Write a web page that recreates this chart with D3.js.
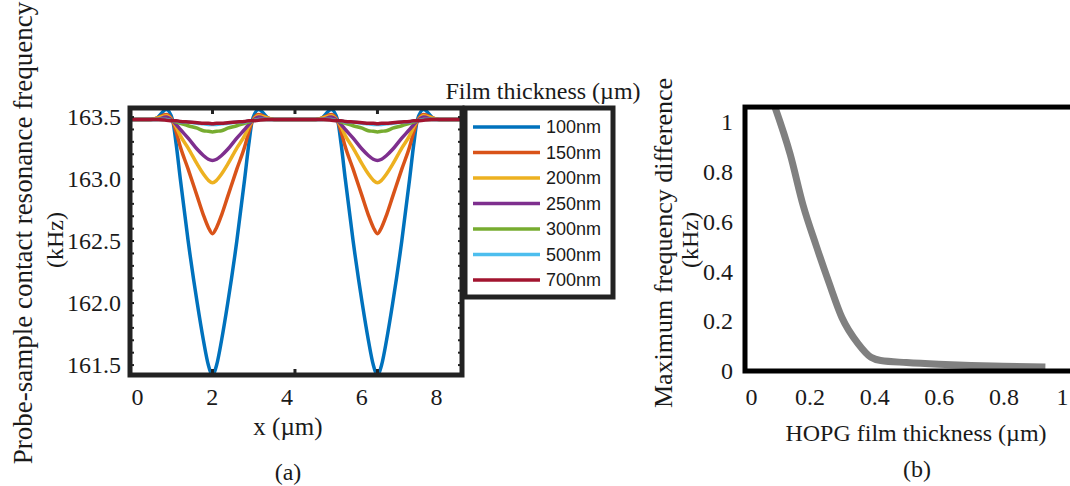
<!DOCTYPE html>
<html>
<head>
<meta charset="utf-8">
<script src="https://cdn.jsdelivr.net/npm/d3@7"></script>
<style>
  html, body { margin: 0; padding: 0; background: #fff; }
  svg { display: block; }
  text { font-family: "Liberation Serif", "Times New Roman", serif; fill: #1a1a1a; }
  .tick text { font-family: "Liberation Serif", "Times New Roman", serif !important; font-size: 24px; }
  .leg text { font-family: "Liberation Sans", Arial, sans-serif; }
</style>
</head>
<body>
<svg id="chart" width="1070" height="486"></svg>
<script>
// panel (a): resonance frequency along x for each film thickness
const xPos = [0, 0.50, 0.64, 0.88, 1.03, 1.12, 1.22, 1.41, 1.63, 1.78, 1.90, 2.00, 2.10, 2.22, 2.37, 2.59, 2.78, 2.88, 2.97, 3.12, 3.36, 3.50,
  4.00, 4.50, 4.64, 4.88, 5.03, 5.12, 5.22, 5.41, 5.63, 5.78, 5.90, 6.00, 6.10, 6.22, 6.37, 6.59, 6.78, 6.88, 6.97, 7.12, 7.36, 7.50, 8.05];

const thickness = ['100nm', '150nm', '200nm', '250nm', '300nm', '500nm', '700nm'];
const colors = ['#0072BD', '#D95319', '#EDB120', '#7E2F8E', '#77AC30', '#4DBEEE', '#A2142F'];

const f100 = [163.48, 163.48, 163.49, 163.56, 163.48, 163.28, 163.00, 162.50, 162.00, 161.70, 161.50, 161.42, 161.50, 161.70, 162.00, 162.50, 163.00, 163.28, 163.48, 163.56, 163.49, 163.48,
  163.48, 163.48, 163.49, 163.56, 163.48, 163.28, 163.00, 162.50, 162.00, 161.70, 161.50, 161.42, 161.50, 161.70, 162.00, 162.50, 163.00, 163.28, 163.48, 163.56, 163.49, 163.48, 163.48];
const f150 = [163.48, 163.48, 163.49, 163.52, 163.47, 163.38, 163.26, 163.08, 162.86, 162.71, 162.61, 162.56, 162.61, 162.71, 162.86, 163.08, 163.26, 163.38, 163.47, 163.52, 163.49, 163.48,
  163.48, 163.48, 163.49, 163.52, 163.47, 163.38, 163.26, 163.08, 162.86, 162.71, 162.61, 162.56, 162.61, 162.71, 162.86, 163.08, 163.26, 163.38, 163.47, 163.52, 163.49, 163.48, 163.48];
const f200 = [163.48, 163.48, 163.49, 163.51, 163.47, 163.42, 163.35, 163.25, 163.12, 163.04, 162.99, 162.97, 162.99, 163.04, 163.12, 163.25, 163.35, 163.42, 163.47, 163.51, 163.49, 163.48,
  163.48, 163.48, 163.49, 163.51, 163.47, 163.42, 163.35, 163.25, 163.12, 163.04, 162.99, 162.97, 162.99, 163.04, 163.12, 163.25, 163.35, 163.42, 163.47, 163.51, 163.49, 163.48, 163.48];
const f250 = [163.48, 163.48, 163.48, 163.50, 163.47, 163.44, 163.40, 163.33, 163.24, 163.19, 163.16, 163.15, 163.16, 163.19, 163.24, 163.33, 163.40, 163.44, 163.47, 163.50, 163.48, 163.48,
  163.48, 163.48, 163.48, 163.50, 163.47, 163.44, 163.40, 163.33, 163.24, 163.19, 163.16, 163.15, 163.16, 163.19, 163.24, 163.33, 163.40, 163.44, 163.47, 163.50, 163.48, 163.48, 163.48];
const f300 = [163.48, 163.48, 163.48, 163.48, 163.47, 163.46, 163.45, 163.43, 163.41, 163.39, 163.385, 163.38, 163.385, 163.39, 163.41, 163.43, 163.45, 163.46, 163.47, 163.48, 163.48, 163.48,
  163.48, 163.48, 163.48, 163.48, 163.47, 163.46, 163.45, 163.43, 163.41, 163.39, 163.385, 163.38, 163.385, 163.39, 163.41, 163.43, 163.45, 163.46, 163.47, 163.48, 163.48, 163.48, 163.48];
const f500 = [163.48, 163.48, 163.48, 163.48, 163.47, 163.47, 163.46, 163.46, 163.45, 163.445, 163.44, 163.44, 163.44, 163.445, 163.45, 163.46, 163.46, 163.47, 163.47, 163.48, 163.48, 163.48,
  163.48, 163.48, 163.48, 163.48, 163.47, 163.47, 163.46, 163.46, 163.45, 163.445, 163.44, 163.44, 163.44, 163.445, 163.45, 163.46, 163.46, 163.47, 163.47, 163.48, 163.48, 163.48, 163.48];
const f700 = [163.48, 163.48, 163.48, 163.475, 163.47, 163.47, 163.465, 163.46, 163.455, 163.45, 163.45, 163.445, 163.45, 163.45, 163.455, 163.46, 163.465, 163.47, 163.47, 163.475, 163.48, 163.48,
  163.48, 163.48, 163.48, 163.475, 163.47, 163.47, 163.465, 163.46, 163.455, 163.45, 163.45, 163.445, 163.45, 163.45, 163.455, 163.46, 163.465, 163.47, 163.47, 163.475, 163.48, 163.48, 163.48];
const seriesA = [f100, f150, f200, f250, f300, f500, f700];

const yTicksA = [161.5, 162.0, 162.5, 163.0, 163.5];
const xTicksA = [0, 2, 4, 6, 8];

// panel (b): maximum frequency difference vs film thickness
const filmT = [0.09, 0.14, 0.18, 0.22, 0.26, 0.30, 0.35, 0.39, 0.42, 0.50, 0.60, 0.70, 0.80, 0.93];
const maxDiff = [1.07, 0.87, 0.665, 0.505, 0.355, 0.215, 0.11, 0.055, 0.042, 0.034, 0.027, 0.022, 0.019, 0.016];
const xTicksB = [0, 0.2, 0.4, 0.6, 0.8, 1];
const yTicksB = [0, 0.2, 0.4, 0.6, 0.8, 1];

const svg = d3.select('#chart');

// strip d3's default axis font so the serif style applies
const styleAxis = (g) => {
  g.attr('font-family', null).attr('font-size', null);
  g.select('.domain').remove();
  g.selectAll('text').attr('fill', '#1a1a1a');
};

// ---------- panel (a) ----------
const xA = d3.scaleLinear().domain([0, 8.05]).range([130, 462]);
const yA = d3.scaleLinear().domain([161.42, 163.573]).range([375, 108]);
// the printed x labels sit on their own slightly shifted scale
const xLabA = d3.scaleLinear().domain([0, 8]).range([137, 436]);

svg.append('clipPath').attr('id', 'clipA')
  .append('rect')
  .attr('x', xA(0)).attr('y', yA(163.573))
  .attr('width', xA(8.05) - xA(0)).attr('height', yA(161.42) - yA(163.573));

const lineA = d3.line()
  .x((d, i) => xA(xPos[i]))
  .y((d) => yA(d))
  .curve(d3.curveMonotoneX);

const gA = svg.append('g').attr('clip-path', 'url(#clipA)');
seriesA.forEach((s, k) => {
  gA.append('path')
    .attr('d', lineA(s))
    .attr('fill', 'none')
    .attr('stroke', colors[k])
    .attr('stroke-width', 3.5);
});

// minor ticks on left/right, major ticks top/bottom
const minorY = d3.range(161.5, 163.55, 0.1);
minorY.forEach((v) => {
  svg.append('line').attr('x1', xA(0)).attr('x2', xA(0) + 4)
    .attr('y1', yA(v)).attr('y2', yA(v)).attr('stroke', '#222').attr('stroke-width', 2);
  svg.append('line').attr('x1', xA(8.05)).attr('x2', xA(8.05) - 4)
    .attr('y1', yA(v)).attr('y2', yA(v)).attr('stroke', '#222').attr('stroke-width', 2);
});
[2, 4, 6].forEach((v) => {
  svg.append('line').attr('x1', xA(v)).attr('x2', xA(v))
    .attr('y1', yA(163.573)).attr('y2', yA(163.573) + 6).attr('stroke', '#222').attr('stroke-width', 3);
  svg.append('line').attr('x1', xA(v)).attr('x2', xA(v))
    .attr('y1', yA(161.42)).attr('y2', yA(161.42) - 6).attr('stroke', '#222').attr('stroke-width', 3);
});

svg.append('rect')
  .attr('x', xA(0)).attr('y', yA(163.573))
  .attr('width', xA(8.05) - xA(0)).attr('height', yA(161.42) - yA(163.573))
  .attr('fill', 'none').attr('stroke', '#222').attr('stroke-width', 5);

// y axis labels
svg.append('g')
  .attr('transform', `translate(${xA(0)},0)`)
  .call(d3.axisLeft(yA).tickValues(yTicksA).tickFormat(d3.format('.1f')).tickSize(0).tickPadding(9))
  .call(styleAxis);

// x axis labels
svg.append('g')
  .attr('transform', `translate(0,${yA(161.42)})`)
  .call(d3.axisBottom(xLabA).tickValues(xTicksA).tickSize(0).tickPadding(13))
  .call(styleAxis);

// titles (a)
svg.append('text').attr('transform', 'translate(32,233) rotate(-90)')
  .attr('text-anchor', 'middle').style('font-size', '27px')
  .text('Probe-sample contact resonance frequency');
svg.append('text').attr('transform', 'translate(63,240) rotate(-90)')
  .attr('text-anchor', 'middle').style('font-size', '24px')
  .text('(kHz)');
svg.append('text').attr('x', 288).attr('y', 435)
  .attr('text-anchor', 'middle').style('font-size', '25px')
  .text('x (µm)');
svg.append('text').attr('x', 288).attr('y', 480)
  .attr('text-anchor', 'middle').style('font-size', '24px')
  .text('(a)');

// legend
svg.append('text').attr('x', 543).attr('y', 99)
  .attr('text-anchor', 'middle').style('font-size', '24px')
  .text('Film thickness (µm)');
const leg = svg.append('g').attr('class', 'leg');
leg.append('rect').attr('x', 465).attr('y', 108).attr('width', 148).attr('height', 189)
  .attr('fill', '#fff').attr('stroke', '#222').attr('stroke-width', 5);
const yLeg = d3.scaleLinear().domain([0, thickness.length - 1]).range([127, 280]);
thickness.forEach((t, k) => {
  leg.append('line').attr('x1', 473).attr('x2', 540)
    .attr('y1', yLeg(k)).attr('y2', yLeg(k))
    .attr('stroke', colors[k]).attr('stroke-width', 3.5);
  leg.append('text').attr('x', 546).attr('y', yLeg(k)).attr('dy', '0.36em')
    .style('font-size', '18px').text(t);
});

// ---------- panel (b) ----------
const xB = d3.scaleLinear().domain([0, 1]).range([745, 1068]);
const yB = d3.scaleLinear().domain([0, 1]).range([371, 122]);

svg.append('clipPath').attr('id', 'clipB')
  .append('rect').attr('x', xB(0)).attr('y', yB(1.06))
  .attr('width', 1080 - xB(0)).attr('height', yB(0) - yB(1.06));

const lineB = d3.line()
  .x((d, i) => xB(filmT[i]))
  .y((d) => yB(d))
  .curve(d3.curveMonotoneX);

svg.append('path')
  .attr('clip-path', 'url(#clipB)')
  .attr('d', lineB(maxDiff))
  .attr('fill', 'none')
  .attr('stroke', '#808080')
  .attr('stroke-width', 7);

svg.append('rect')
  .attr('x', xB(0)).attr('y', yB(1.06))
  .attr('width', 1080 - xB(0)).attr('height', yB(0) - yB(1.06))
  .attr('fill', 'none').attr('stroke', '#000').attr('stroke-width', 5);

svg.append('g')
  .attr('transform', `translate(${xB(0)},0)`)
  .call(d3.axisLeft(yB).tickValues(yTicksB).tickFormat((d) => String(d)).tickSize(0).tickPadding(12))
  .call(styleAxis);

const xAxisB = svg.append('g')
  .attr('transform', `translate(0,${yB(0)})`)
  .call(d3.axisBottom(xB).tickValues(xTicksB).tickFormat((d) => String(d)).tickSize(0).tickPadding(17))
  .call(styleAxis);
xAxisB.selectAll('text')
  .attr('text-anchor', (d) => (d === 0 ? 'start' : d === 1 ? 'end' : 'middle'));

svg.append('text').attr('transform', 'translate(672,243) rotate(-90)')
  .attr('text-anchor', 'middle').style('font-size', '26px')
  .text('Maximum frequency difference');
svg.append('text').attr('transform', 'translate(698,240) rotate(-90)')
  .attr('text-anchor', 'middle').style('font-size', '24px')
  .text('(kHz)');
svg.append('text').attr('x', 916).attr('y', 441)
  .attr('text-anchor', 'middle').style('font-size', '24px')
  .text('HOPG film thickness (µm)');
svg.append('text').attr('x', 917).attr('y', 477)
  .attr('text-anchor', 'middle').style('font-size', '24px')
  .text('(b)');
</script>
</body>
</html>
